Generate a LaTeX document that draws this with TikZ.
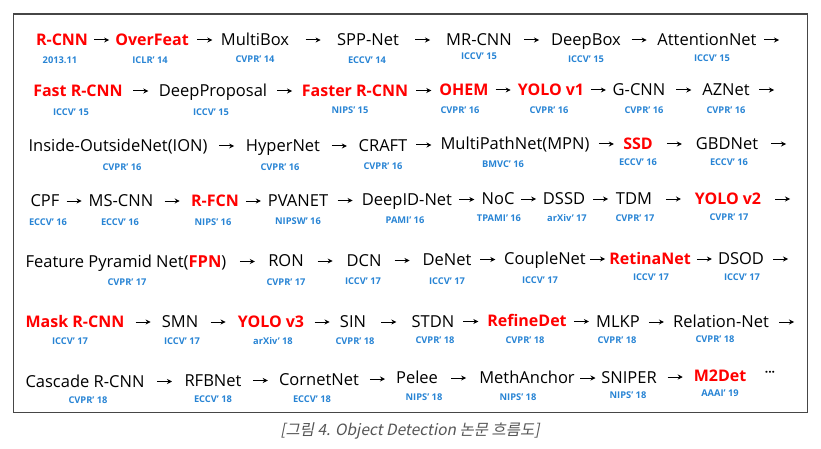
\documentclass[tikz,border=0pt]{standalone}
\usepackage{fontspec}
\setmainfont{Open Sans}
\newfontfamily\krfont[FakeSlant=0.2]{Noto Sans CJK KR}
\usetikzlibrary{arrows.meta,calc}
\definecolor{rd}{RGB}{255,0,0}
\definecolor{bl}{RGB}{40,132,212}
\definecolor{framecol}{RGB}{70,70,70}
\definecolor{capgray}{RGB}{85,85,85}
\begin{document}
\begin{tikzpicture}[x=1pt,y=-1pt,
  nm/.style={inner sep=0pt, text height=11.8pt, text depth=0pt, text=black, font=\fontsize{16.5}{18}\selectfont},
  hi/.style={nm, text=rd, font=\fontsize{16}{18}\selectfont\bfseries},
  yr/.style={inner sep=0pt, text height=6.6pt, text depth=0pt, text=bl, font=\fontsize{9.3}{11}\selectfont\bfseries},
  conn/.style={-{Stealth[length=5pt,width=5pt]}, line width=1pt,
    to path={($(\tikztostart.east)!0.5!(\tikztotarget.west)$) +(-7.5,0) -- +(7.5,0)}},
  endconn/.style={-{Stealth[length=5pt,width=5pt]}, line width=1pt,
    to path={($(\tikztotarget)+(-15,0)$) -- (\tikztotarget)}},
]
\useasboundingbox (0,0) rectangle (821,449);
\draw[framecol, line width=1.5pt] (13.5,14) rectangle (807.5,412.5);

% Row 1
\node[hi] (a1) at (62,40) {R-CNN};
\node[hi] (a2) at (152,40) {OverFeat};
\node[nm] (a3) at (255,40) {MultiBox};
\node[nm] (a4) at (368,40) {SPP-Net};
\node[nm] (a5) at (479,40) {MR-CNN};
\node[nm] (a6) at (586,40) {DeepBox};
\node[nm] (a7) at (707,40) {AttentionNet};
\coordinate (ae) at (779,40);
\node[yr] (la1) at (60,60) {2013.11};
\node[yr] (la2) at (150,60) {ICLR’ 14};
\node[yr] (la3) at (255,59) {CVPR’ 14};
\node[yr] (la4) at (367,60) {ECCV’ 14};
\node[yr] (la5) at (479,56) {ICCV’ 15};
\node[yr] (la6) at (586,59) {ICCV’ 15};
\node[yr] (la7) at (712,58) {ICCV’ 15};
\draw[conn] (a1) to (a2);
\draw[conn] (a2) to (a3);
\draw[conn] (a3) to (a4);
\draw[conn] (a4) to (a5);
\draw[conn] (a5) to (a6);
\draw[conn] (a6) to (a7);
\draw[endconn] (a7) to (ae);

% Row 2
\node[hi] (b1) at (78,91) {Fast R-CNN};
\node[nm] (b2) at (213,91) {DeepProposal};
\node[hi] (b3) at (355,91) {Faster R-CNN};
\node[hi] (b4) at (464,90) {OHEM};
\node[hi] (b5) at (551,90) {YOLO v1};
\node[nm] (b6) at (639,90) {G-CNN};
\node[nm] (b7) at (726,90) {AZNet};
\coordinate (be) at (774,90);
\node[yr] (lb1) at (71,112) {ICCV’ 15};
\node[yr] (lb2) at (211,112) {ICCV’ 15};
\node[yr] (lb3) at (350,110) {NIPS’ 15};
\node[yr] (lb4) at (460,110) {CVPR’ 16};
\node[yr] (lb5) at (549,110) {CVPR’ 16};
\node[yr] (lb6) at (644,110) {CVPR’ 16};
\node[yr] (lb7) at (726,110) {CVPR’ 16};
\draw[conn] (b1) to (b2);
\draw[conn] (b2) to (b3);
\draw[conn] (b3) to (b4);
\draw[conn] (b4) to (b5);
\draw[conn] (b5) to (b6);
\draw[conn] (b6) to (b7);
\draw[endconn] (b7) to (be);

% Row 3
\node[nm] (c1) at (118,146) {Inside-OutsideNet(ION)};
\node[nm] (c2) at (283,146) {HyperNet};
\node[nm] (c3) at (383,146) {CRAFT};
\node[nm] (c4) at (515,144) {MultiPathNet(MPN)};
\node[hi] (c5) at (638,144) {SSD};
\node[nm] (c6) at (727,144) {GBDNet};
\coordinate (ce) at (786,144);
\node[yr] (lc1) at (122,167) {CVPR’ 16};
\node[yr] (lc2) at (280,167) {CVPR’ 16};
\node[yr] (lc3) at (383,166) {CVPR’ 16};
\node[yr] (lc4) at (503,164) {BMVC’ 16};
\node[yr] (lc5) at (638,162) {ECCV’ 16};
\node[yr] (lc6) at (729,162) {ECCV’ 16};
\draw[conn] (c1) to (c2);
\draw[conn] (c2) to (c3);
\draw[conn] (c3) to (c4);
\draw[conn] (c4) to (c5);
\draw[conn] (c5) to (c6);
\draw[endconn] (c6) to (ce);

% Row 4
\node[nm] (d1) at (45,201) {CPF};
\node[nm] (d2) at (121,201) {MS-CNN};
\node[hi] (d3) at (215,201) {R-FCN};
\node[nm] (d4) at (298,201) {PVANET};
\node[nm] (d5) at (407,200) {DeepID-Net};
\node[nm] (d6) at (498,199) {NoC};
\node[nm] (d7) at (564,199) {DSSD};
\node[nm] (d8) at (634,199) {TDM};
\node[hi] (d9) at (728,199) {YOLO v2};
\coordinate (de) at (790,199);
\node[yr] (ld1) at (48,222) {ECCV’ 16};
\node[yr] (ld2) at (120,222) {ECCV’ 16};
\node[yr] (ld3) at (213,222) {NIPS’ 16};
\node[yr] (ld4) at (298,221) {NIPSW’ 16};
\node[yr] (ld5) at (405,220) {PAMI’ 16};
\node[yr] (ld6) at (499,218) {TPAMI’ 16};
\node[yr] (ld7) at (567,218) {arXiv’ 17};
\node[yr] (ld8) at (635,218) {CVPR’ 17};
\node[yr] (ld9) at (729,217) {CVPR’ 17};
\draw[conn] (d1) to (d2);
\draw[conn] (d2) to (d3);
\draw[conn] (d3) to (d4);
\draw[conn] (d4) to (d5);
\draw[conn] (d5) to (d6);
\draw[conn] (d6) to (d7);
\draw[conn] (d7) to (d8);
\draw[conn] (d8) to (d9);
\draw[endconn] (d9) to (de);

% Row 5
\node[nm] (e1) at (126,262) {Feature Pyramid Net({\color{rd}\bfseries FPN})};
\node[nm] (e2) at (286,261) {RON};
\node[nm] (e3) at (364,261) {DCN};
\node[nm] (e4) at (447,260) {DeNet};
\node[nm] (e5) at (545,259) {CoupleNet};
\node[hi] (e6) at (650,259) {RetinaNet};
\node[nm] (e7) at (741,259) {DSOD};
\coordinate (ee) at (788,259);
\node[yr] (le1) at (127,282) {CVPR’ 17};
\node[yr] (le2) at (286,282) {CVPR’ 17};
\node[yr] (le3) at (363,281) {ICCV’ 17};
\node[yr] (le4) at (447,281) {ICCV’ 17};
\node[yr] (le5) at (540,280) {ICCV’ 17};
\node[yr] (le6) at (651,277) {ICCV’ 17};
\node[yr] (le7) at (742,277) {ICCV’ 17};
\draw[conn] (e1) to (e2);
\draw[conn] (e2) to (e3);
\draw[conn] (e3) to (e4);
\draw[conn] (e4) to (e5);
\draw[conn] (e5) to (e6);
\draw[conn] (e6) to (e7);
\draw[endconn] (e7) to (ee);

% Row 6
\node[hi] (f1) at (75,322) {Mask R-CNN};
\node[nm] (f2) at (180,322) {SMN};
\node[hi] (f3) at (271,322) {YOLO v3};
\node[nm] (f4) at (353,322) {SIN};
\node[nm] (f5) at (433,322) {STDN};
\node[hi] (f6) at (527,321) {RefineDet};
\node[nm] (f7) at (618,322) {MLKP};
\node[nm] (f8) at (721,322) {Relation-Net};
\coordinate (fe) at (794,322);
\node[yr] (lf1) at (70,341) {ICCV’ 17};
\node[yr] (lf2) at (182,341) {ICCV’ 17};
\node[yr] (lf3) at (273,341) {arXiv’ 18};
\node[yr] (lf4) at (355,341) {CVPR’ 18};
\node[yr] (lf5) at (435,340) {CVPR’ 18};
\node[yr] (lf6) at (525,340) {CVPR’ 18};
\node[yr] (lf7) at (617,340) {CVPR’ 18};
\node[yr] (lf8) at (715,339) {CVPR’ 18};
\draw[conn] (f1) to (f2);
\draw[conn] (f2) to (f3);
\draw[conn] (f3) to (f4);
\draw[conn] (f4) to (f5);
\draw[conn] (f5) to (f6);
\draw[conn] (f6) to (f7);
\draw[conn] (f7) to (f8);
\draw[endconn] (f8) to (fe);

% Row 7
\node[nm] (g1) at (85,382) {Cascade R-CNN};
\node[nm] (g2) at (213,381) {RFBNet};
\node[nm] (g3) at (319,380) {CornetNet};
\node[nm] (g4) at (417,378) {Pelee};
\node[nm] (g5) at (527,378) {MethAnchor};
\node[nm] (g6) at (629,378) {SNIPER};
\node[hi] (g7) at (720,376) {M2Det};
\node[inner sep=0pt, font=\fontsize{12}{14}\selectfont\bfseries] (g8) at (770,374) {···};
\node[yr] (lg1) at (88,400) {CVPR’ 18};
\node[yr] (lg2) at (213,399) {ECCV’ 18};
\node[yr] (lg3) at (312,399) {ECCV’ 18};
\node[yr] (lg4) at (424,397) {NIPS’ 18};
\node[yr] (lg5) at (518,397) {NIPS’ 18};
\node[yr] (lg6) at (628,395) {NIPS’ 18};
\node[yr] (lg7) at (720,393) {AAAI’ 19};
\draw[conn] (g1) to (g2);
\draw[conn] (g2) to (g3);
\draw[conn] (g3) to (g4);
\draw[conn] (g4) to (g5);
\draw[conn] (g5) to (g6);
\draw[conn] (g6) to (g7);

% Caption
\node[inner sep=0pt, text=capgray, font=\krfont\fontsize{15.5}{17}\selectfont] (cap) at (410,431) {[그림 4. Object Detection 논문 흐름도]};
\end{tikzpicture}
\end{document}
